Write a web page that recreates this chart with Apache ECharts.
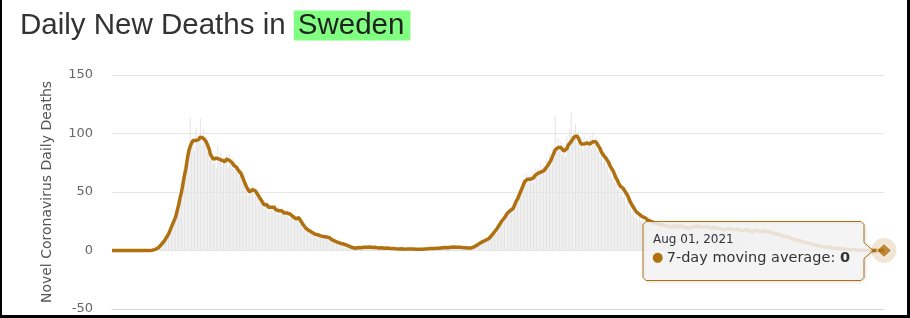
<!DOCTYPE html>
<html><head><meta charset="utf-8">
<script src="https://cdn.jsdelivr.net/npm/echarts@6.0.0/dist/echarts.min.js"></script>
<style>
html,body{margin:0;padding:0;background:#fff}
#wrap{position:relative;width:910px;height:318px;overflow:hidden}
#c{width:910px;height:318px}
#frame{position:absolute;left:0;top:0;width:910px;height:318px;box-sizing:border-box;border-left:2px solid #000;border-right:3px solid #000;border-bottom:3px solid #000;pointer-events:none}
</style></head><body>
<div id="wrap"><div id="c"></div><div id="frame"></div></div>
<script>
const titleText = 'Daily New Deaths in ';
const countryName = 'Sweden';
const yAxisTitle = 'Novel Coronavirus Daily Deaths';
const seriesName = '7-day moving average';
const tooltipDate = 'Aug 01, 2021';
const startDate = '2020-02-15';
const yMin = -50, yMax = 150, yStep = 50;

// 7-day moving average, one value per day from Feb 15, 2020 to Aug 1, 2021
const movingAvg = [
0,0,0,0,0,0,0,0,0,0,
0,0,0,0,0,0,0,0,0,0,
0,0,0,0,0,0,0,0,0.3,0.6,
1,1.6,2.4,3.5,5,6.5,8,10,12,14,
17,20,23,26,29,34,39,45,50,57,
64,70,78,85,89,92,94,93,94,95,
95,97,98,96,96,93,90,87,82,80,
78,77,79,80,78,79,77,77,76,78,
78,77,76,75,73,72,71,69,68,66,
63,60,57,54,52,50,51,52,51,51,
49,47,45,43,41,39,38,39,37,38,
37,36,37,35,35,34,34,34,33,32,
33,32,31,31,30,29,28,27,28,28,
26,24,22,21,19,18,17,16,15.5,15,
14,14,13.5,13,12.5,12,12,12,11.5,11.5,
11,10,9,8.5,8,7.5,7,6.5,6,6,
5.5,5,4.5,4,3.5,3,2.5,2,2,2.3,
2.5,2.7,2.4,2.6,2.8,3,2.7,2.5,2.9,2.8,
2.6,2.4,2.7,2.5,2.2,2,2.3,2.1,1.9,2,
2.2,2,1.8,1.6,1.7,1.5,1.4,1.6,1.3,1.2,
1.4,1.2,1.1,1,1.2,1.1,1.3,1,1.2,1.1,
1,1.2,1.1,1.3,1.1,1.4,1.3,1.5,1.4,1.6,
1.7,1.6,1.8,2,1.9,2.1,2,2.2,2.4,2.3,
2.5,2.6,2.4,2.7,2.8,2.6,2.9,2.8,2.7,2.9,
2.8,2.6,2.5,2.3,2.4,2.2,2.1,2,2.2,2.6,
3.2,3.9,4.6,5.4,6.2,7,7.6,8.2,8.8,9.4,
10,11.2,12.6,14.2,15.8,17,19,21,23,25,
26,28,30,32,33,34,35,36,39,42,
44,47,50,53,56,59,60,61,60,61,
61,62,64,65,66,67,67,68,68,69,
71,73,75,77,80,83,86,87,88,88,
88,87,85,84,87,90,91,93,95,97,
98,98,96,93,91,90,91,91,92,92,
91,92,93,92,93,91,89,87,84,82,
81,79,77,75,72,70,68,65,62,60,
57,55,54,53,51,50,47,44,41,39,
37,35,33,32,31,30,29,28,28,27,
26,26,25,25,24,24,23,23,22,22,
22,21,21,22,21,21,20,20,21,20,
20,21,21,20,20,21,20,20,19,20,
20,21,20,21,21,20,20,21,20,20,
20,19,20,20,19,19,20,19,19,18,
19,19,18,19,18,18,19,18,18,18,
18,17,18,18,17,18,17,17,18,17,
17,17,16,17,17,16,17,16,16,16,
17,16,16,15,16,16,15,15,14,14,
14,13,13,13,12,12,12,11,11,11,
10,10,9,9,8.5,8,8,7.5,7,7,
6.5,6,6,5.5,5,5,4.5,4.5,4,4,
3.5,3.5,3,3,3,2.8,2.6,2.4,2.2,2,
2,1.8,1.6,1.5,1.4,1.2,1.1,1,0.9,0.8,
0.7,0.6,0.6,0.5,0.4,0.4,0.3,0.3,0.2,0.1,
0.1,0.1,0,0,0,0,0,0,0,0,
0,0,0,0
];

// daily new deaths, same days
const dailyDeaths = [
0,0,0,0,0,0,0,0,0,0,
0,0,0,0,0,0,0,0,0,0,
0,0,0,0,0,0,0,1,0,1,
2,1,3,5,4,8,7,12,10,15,
16,22,19,28,30,33,41,44,55,52,
68,72,80,86,114,88,96,85,105,92,
99,113,90,104,93,97,84,92,78,85,
74,81,70,89,76,84,72,80,75,82,
71,83,74,79,68,76,67,72,63,70,
60,65,52,58,47,55,49,56,46,53,
45,50,41,46,38,43,35,42,33,40,
35,38,33,39,31,37,30,36,32,34,
30,35,28,33,27,31,25,30,26,29,
23,26,19,23,17,20,15,18,14,16,
12,15,13,14,11,13,12,12,10,13,
10,11,8,9,7,9,6,8,5,7,
5,6,4,5,3,4,2,3,2,3,
2,3,3,2,4,3,2,3,3,4,
3,2,3,2,2,3,2,1,2,3,
2,1,2,2,1,2,1,2,1,1,
1,2,1,0,1,2,1,1,0,1,
1,2,0,1,2,1,1,2,1,2,
2,1,2,3,1,2,2,3,2,3,
3,2,3,2,4,3,2,3,4,2,
3,2,3,2,3,2,2,1,3,3,
4,3,5,6,5,8,7,9,8,11,
10,12,14,13,17,16,21,19,25,24,
28,27,32,30,36,33,38,35,42,44,
47,45,53,52,60,58,66,57,64,59,
67,58,70,63,71,65,74,66,72,70,
78,70,83,76,88,82,115,84,96,85,
93,82,90,80,98,88,104,118,96,103,
108,92,102,90,97,86,99,88,96,89,
98,87,101,90,97,85,93,80,88,75,
84,72,80,66,75,62,70,58,64,52,
58,47,55,45,51,40,44,36,39,32,
33,28,30,26,29,25,27,24,26,23,
25,22,24,23,24,21,23,20,22,21,
22,20,23,21,22,19,21,20,22,19,
21,20,22,19,21,20,21,19,20,19,
21,20,22,19,22,20,21,19,21,20,
20,18,21,19,20,18,21,18,19,17,
20,18,19,17,19,18,19,17,18,17,
19,16,18,17,18,16,18,16,17,16,
18,16,17,15,18,15,17,16,15,16,
17,15,16,14,16,15,15,14,13,14,
14,12,13,12,12,11,12,10,11,10,
10,9,9,8,8,7,8,7,6,7,
6,5,6,5,5,4,5,4,4,3,
4,3,3,2,3,3,2,2,2,2,
2,1,2,1,1,1,1,1,1,0,
1,0,1,0,0,1,0,0,0,0,
0,0,0,0,0,0,0,0,0,0,
0,0,0,0
];

const MONTHS = ['Jan','Feb','Mar','Apr','May','Jun','Jul','Aug','Sep','Oct','Nov','Dec'];
const categories = [];
{
  const d0 = new Date(startDate + 'T00:00:00Z');
  for (let i = 0; i < movingAvg.length; i++) {
    const d = new Date(d0.getTime() + i * 86400000);
    categories.push(MONTHS[d.getUTCMonth()] + ' ' + String(d.getUTCDate()).padStart(2,'0') + ', ' + d.getUTCFullYear());
  }
}

const LINE = '#b07010';
const lastIdx = movingAvg.length - 1;
const lastVal = movingAvg[lastIdx];

const chart = echarts.init(document.getElementById('c'), null, {renderer: 'canvas'});
chart.setOption({
  animation: false,
  backgroundColor: '#fff',
  title: {
    left: 15, top: 5,
    text: '{a|' + titleText + '}{b|' + countryName + '}',
    textStyle: {
      fontWeight: 'normal',
      rich: {
        a: {fontFamily: 'Liberation Sans', fontSize: 29.5, fontWeight: 'normal', color: '#333', lineHeight: 31},
        b: {fontFamily: 'Liberation Sans', fontSize: 29.5, fontWeight: 'normal', color: '#222', lineHeight: 31,
            backgroundColor: '#80ff80', padding: [0, 6, 0, 4]}
      }
    }
  },
  grid: {left: 112, right: 26, top: 75, bottom: 9, containLabel: false},
  xAxis: {
    type: 'category', data: categories, boundaryGap: false,
    axisLine: {show: true, onZero: false, lineStyle: {color: '#ccd6eb', width: 1}},
    axisTick: {show: false}, axisLabel: {show: false}, splitLine: {show: false}
  },
  yAxis: {
    type: 'value', min: yMin, max: yMax, interval: yStep,
    name: yAxisTitle, nameLocation: 'middle', nameGap: 58, nameRotate: 90,
    nameTextStyle: {fontFamily: 'DejaVu Sans', fontSize: 14, color: '#555'},
    axisLine: {show: false}, axisTick: {show: false},
    axisLabel: {fontFamily: 'DejaVu Sans', fontSize: 13, color: '#666', margin: 19},
    splitLine: {lineStyle: {color: '#e6e6e6', width: 1}}
  },
  series: [
    {type: 'bar', name: 'Daily Deaths', data: dailyDeaths, barWidth: 1, silent: true,
     itemStyle: {color: '#e3e3e3'}, z: 1},
    {type: 'line', name: seriesName, data: movingAvg, showSymbol: false, silent: true,
     lineStyle: {color: LINE, width: 3.5}, z: 3},
    {type: 'scatter', data: [[lastIdx, lastVal]], symbol: 'circle', symbolSize: 25, silent: true,
     itemStyle: {color: 'rgba(176,112,16,0.22)'}, z: 4},
    {type: 'scatter', data: [[lastIdx, lastVal]], symbol: 'diamond', symbolSize: [15, 14], silent: true,
     itemStyle: {color: LINE, borderColor: '#fff', borderWidth: 1}, z: 5}
  ]
});

// tooltip box drawn as callout near last point
const p = chart.convertToPixel({seriesIndex: 1}, [lastIdx, lastVal]);
const R = p[0] - 20, L = R - 221, T = p[1] - 29, B = p[1] + 30, c = 3;
const tip = [p[0] - 11, p[1]];
chart.setOption({
  graphic: [
    {type: 'polygon', z: 100, silent: true,
     shape: {points: [[L + c, T], [R - c, T], [R, T + c], [R, p[1] - 8], tip, [R, p[1] + 8], [R, B - c], [R - c, B], [L + c, B], [L, B - c], [L, T + c]]},
     style: {fill: 'rgba(247,247,247,0.85)', stroke: LINE, lineWidth: 1,
             shadowBlur: 3, shadowColor: 'rgba(0,0,0,0.12)', shadowOffsetX: 1, shadowOffsetY: 1}},
    {type: 'text', z: 101, silent: true, left: L + 10, top: T + 12,
     style: {text: tooltipDate, fontFamily: 'DejaVu Sans', fontSize: 12, fill: '#333'}},
    {type: 'text', z: 101, silent: true, left: L + 9, top: T + 29,
     style: {text: '{d|●} {t|' + seriesName + ': }{b|' + lastVal + '}',
             rich: {
               d: {fontSize: 13, fill: LINE, color: LINE, fontFamily: 'DejaVu Sans'},
               t: {fontSize: 14.5, fill: '#333', color: '#333', fontFamily: 'DejaVu Sans'},
               b: {fontSize: 14.5, fill: '#333', color: '#333', fontFamily: 'DejaVu Sans', fontWeight: 'bold'}
             }}}
  ]
});
</script>
</body></html>
